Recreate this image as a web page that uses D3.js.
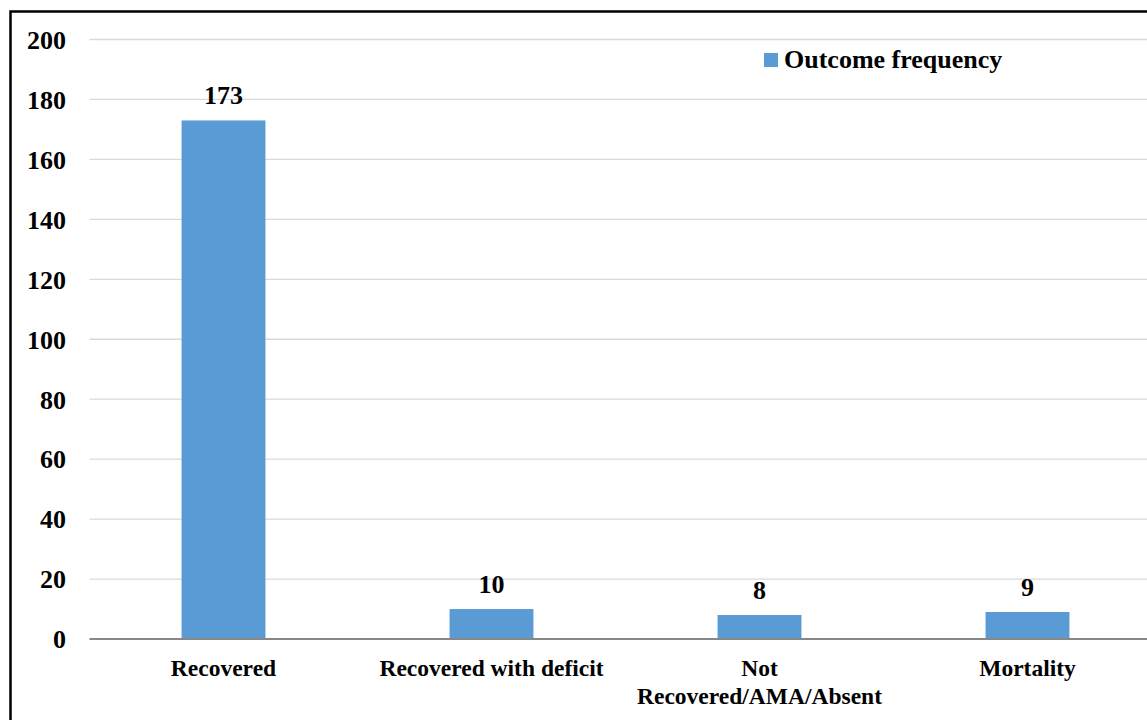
<!DOCTYPE html>
<html>
<head>
<meta charset="utf-8">
<script src="https://cdn.jsdelivr.net/npm/d3@7"></script>
<style>
  html, body { margin: 0; padding: 0; background: #fff; }
  svg { display: block; }
  svg text { font-family: "Liberation Serif", "Times New Roman", Times, serif; font-weight: 700; fill: #000; }
</style>
</head>
<body>
<svg id="chart" width="1147" height="720"></svg>
<script>
const categories = ["Recovered", "Recovered with deficit", "Not\nRecovered/AMA/Absent", "Mortality"];
const values = [173, 10, 8, 9];
const yTicks = [0, 20, 40, 60, 80, 100, 120, 140, 160, 180, 200];
const seriesName = "Outcome frequency";

const svg = d3.select("#chart");
const plot = { left: 89.5, right: 1161.5, top: 39.5, bottom: 639 };

svg.append("rect").attr("x", 10.5).attr("y", 11.5).attr("width", 1160).attr("height", 740)
  .attr("fill", "none").attr("stroke", "#000").attr("stroke-width", 2.5);

const x = d3.scaleBand().domain(categories).range([plot.left, plot.right]).paddingInner(0.687).paddingOuter(0.3435);
const y = d3.scaleLinear().domain([0, 200]).range([plot.bottom, plot.top]);

// gridlines
svg.append("g").selectAll("line").data(yTicks.filter(d => d > 0)).join("line")
  .attr("x1", plot.left).attr("x2", plot.right)
  .attr("y1", d => y(d)).attr("y2", d => y(d))
  .attr("stroke", "#d9d9d9").attr("stroke-width", 1.3);

// y axis labels
const yAxis = d3.axisLeft(y).tickValues(yTicks).tickSize(0).tickPadding(0);
const yg = svg.append("g").attr("transform", `translate(66,0)`).call(yAxis);
yg.select(".domain").remove();
yg.attr("font-family", null).attr("font-size", null);
yg.selectAll("text").style("font-size", "26px").attr("dy", "0.34em");

// bars
svg.append("g").selectAll("rect").data(values).join("rect")
  .attr("x", (d, i) => x(categories[i]))
  .attr("width", x.bandwidth())
  .attr("y", d => y(d))
  .attr("height", d => y(0) - y(d))
  .attr("fill", "#5b9bd5");

// value labels
svg.append("g").selectAll("text").data(values).join("text")
  .attr("x", (d, i) => x(categories[i]) + x.bandwidth() / 2)
  .attr("y", d => y(d) - 16)
  .attr("text-anchor", "middle").style("font-size", "26px")
  .text(d => d);

// x axis line
svg.append("line").attr("x1", plot.left).attr("x2", plot.right)
  .attr("y1", y(0)).attr("y2", y(0)).attr("stroke", "#878787").attr("stroke-width", 2);

// x category labels
const xg = svg.append("g");
categories.forEach(c => {
  const lines = c.split("\n");
  const t = xg.append("text").attr("text-anchor", "middle").style("font-size", "23.5px")
    .attr("x", x(c) + x.bandwidth() / 2).attr("y", 676);
  lines.forEach((l, i) => {
    t.append("tspan").attr("x", x(c) + x.bandwidth() / 2).attr("dy", i === 0 ? 0 : 28).text(l);
  });
});

// legend
svg.append("rect").attr("x", 764).attr("y", 53).attr("width", 14).attr("height", 14).attr("fill", "#5b9bd5");
svg.append("text").attr("x", 784).attr("y", 68).style("font-size", "26px").text(seriesName);
</script>
</body>
</html>
